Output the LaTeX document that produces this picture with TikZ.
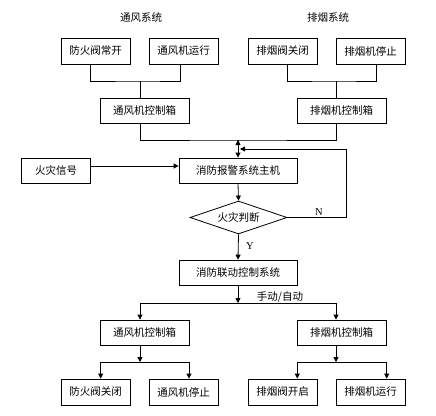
\documentclass[tikz,border=0pt]{standalone}
\usepackage{fontspec}
\newfontfamily\cjk{Noto Sans CJK SC}
\newfontfamily\latinserif{Liberation Serif}
\usetikzlibrary{arrows.meta,shapes.geometric}

\begin{document}
\begin{tikzpicture}[x=1pt,y=-1pt,>={Triangle[length=5pt,width=5pt]},every node/.style={font=\cjk\fontsize{10.5}{12}\selectfont,align=center,inner sep=0pt},box/.style={draw,line width=0.8pt,minimum width=69pt,minimum height=26pt},ctrl/.style={draw,line width=0.8pt,minimum width=89pt,minimum height=25pt},hostbox/.style={draw,line width=0.8pt,minimum width=118pt,minimum height=25pt},yn/.style={font=\latinserif\fontsize{10.5}{12}\selectfont},line/.style={line width=0.8pt},arrow/.style={->,line width=0.8pt}]
\useasboundingbox (0,0) rectangle (436,415);
\node (ventTitle) at (141,17) {通风系统}; \node (smokeTitle) at (328,17) {排烟系统};
\node[box] (fvOpen) at (95.5,51) {防火阀常开}; \node[box] (vfRun) at (183.5,51) {通风机运行};
\node[box] (syClose) at (282.5,51) {排烟阀关闭}; \node[box] (sfStop) at (370.5,51) {排烟机停止};
\node[ctrl] (vCtrlA) at (144.5,110.5) {通风机控制箱}; \node[ctrl] (sCtrlA) at (341.5,110.5) {排烟机控制箱};
\node[box,minimum height=25pt] (fireSig) at (56,170.5) {火灾信号};
\node[hostbox] (alarm) at (238,170.5) {消防报警系统主机};
\node[draw,line width=0.8pt,diamond,aspect=2.9,minimum width=97pt,minimum height=33pt] (judge) at (238.5,217.5) {火灾判断};
\node[hostbox] (linkage) at (238,272.5) {消防联动控制系统};
\node[ctrl] (vCtrlB) at (144.5,332.5) {通风机控制箱}; \node[ctrl] (sCtrlB) at (341.5,332.5) {排烟机控制箱};
\node[box] (fvClose) at (95.5,392) {防火阀关闭}; \node[box] (vfStop) at (183.5,392) {通风机停止};
\node[box] (syOpen) at (282.5,392) {排烟阀开启}; \node[box] (sfRun) at (370.5,392) {排烟机运行};
\coordinate (vJoin) at (140,81); \coordinate (sJoin) at (336,81); \coordinate (busTop) at (238,140); \coordinate (nIn) at (238,149);
\coordinate (busMid) at (238,303); \coordinate (vLow) at (140,362); \coordinate (sLow) at (336,362);
\draw[line] ([xshift=-5pt]fvOpen.south) |- (vJoin) -| ([xshift=-3.5pt]vfRun.south); \draw[line] (vJoin) -- (vCtrlA.north -| vJoin);
\draw[line] ([xshift=5pt]syClose.south) |- (sJoin) -| ([xshift=6pt]sfStop.south); \draw[line] (sJoin) -- (sCtrlA.north -| sJoin);
\draw[line] (vCtrlA.south -| vJoin) |- (busTop) -| (sCtrlA.south -| sJoin);
\draw[arrow] (busTop) -- (alarm.north); \draw[arrow] (nIn) -- (busTop);
\draw[arrow] ([yshift=4.5pt]fireSig.east) -- ([yshift=4.5pt]alarm.west);
\draw[arrow] (alarm.south) -- (judge.north);
\draw[arrow,shorten >=2pt] (judge.east) -- ++(59,0) |- (nIn);
\node[yn] (nLabel) at (319,212) {N};
\draw[arrow] (judge.south) -- (linkage.north); \node[yn] (yLabel) at (250,246) {Y};
\draw[arrow] (linkage.south) -- (busMid); \node (modeLabel) at (280,297) {手动/自动};
\draw[arrow] (busMid) -| (vCtrlB.north -| vJoin); \draw[arrow] (busMid) -| (sCtrlB.north -| sJoin);
\draw[arrow] (vCtrlB.south -| vLow) -- (vLow); \draw[arrow] (vLow) -| ([xshift=5.2pt]fvClose.north); \draw[arrow] (vLow) -| ([xshift=5.5pt]vfStop.north);
\draw[arrow] (sCtrlB.south -| sLow) -- (sLow); \draw[arrow] (sLow) -| ([xshift=14.8pt]syOpen.north); \draw[arrow] (sLow) -| ([xshift=16.2pt]sfRun.north);
\end{tikzpicture}
\end{document}
